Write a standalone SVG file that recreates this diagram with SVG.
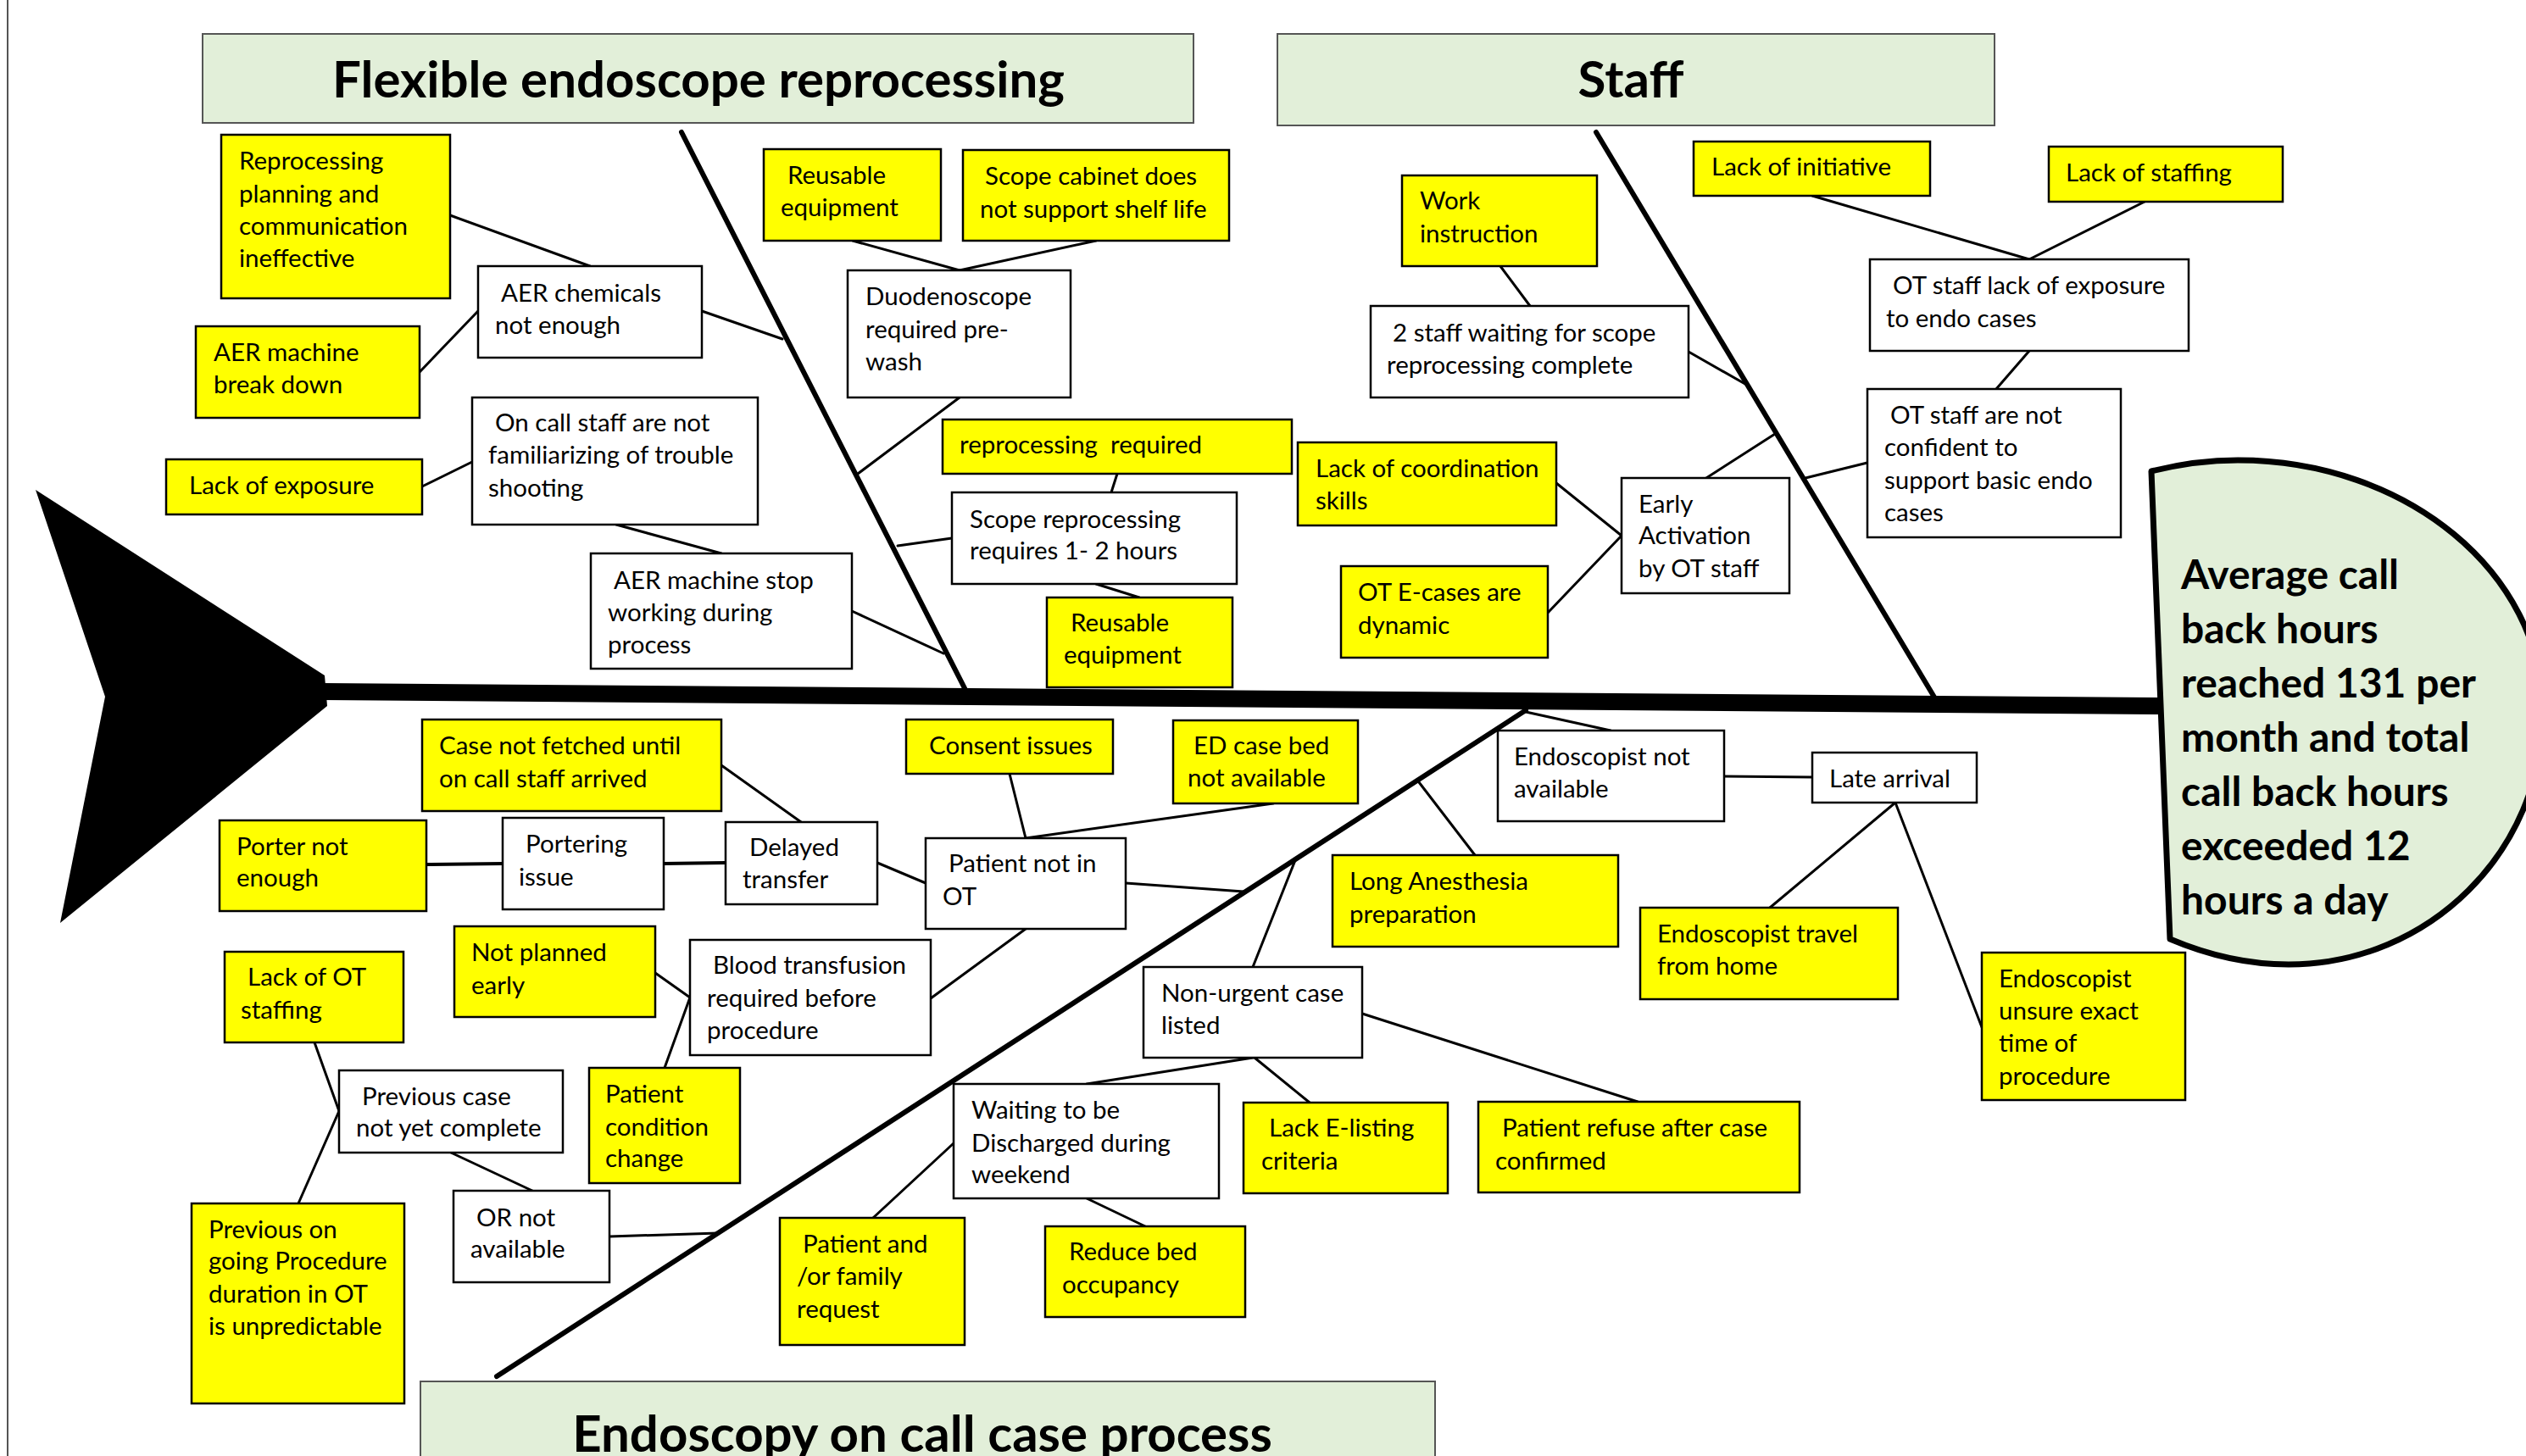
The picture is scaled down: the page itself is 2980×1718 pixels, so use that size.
<svg xmlns="http://www.w3.org/2000/svg" width="2980" height="1718" viewBox="0 0 2980 1718">
<style>
text{font-family:Lato,"Liberation Sans",sans-serif;fill:#000}
.t{font-size:29.5px}
.h{font-size:60px;font-weight:bold;text-anchor:middle}
.hd{font-size:48px;font-weight:bold}
.y{fill:#FFFF00;stroke:#000;stroke-width:2.5}
.w{fill:#FFFFFF;stroke:#000;stroke-width:2.5}
.g{fill:#E2EFD9;stroke:#555;stroke-width:2}
.c line{stroke:#000;stroke-width:3;stroke-linecap:round}
.b{stroke:#000;stroke-width:6;fill:none}
</style>
<rect width="2980" height="1718" fill="#fff"/>
<line x1="9" y1="0" x2="9" y2="1718" stroke="#555" stroke-width="2"/>

<!-- connectors and bones -->
<g id="connectors" class="c">
<polygon points="42,578 383,797 386,833 71,1089 124,822" fill="#000"/>
<line x1="380" y1="816" x2="2548" y2="833" style="stroke-width:20;stroke-linecap:butt"/>
<line class="b" x1="804" y1="156" x2="1140" y2="816" style="stroke-width:6"/>
<line class="b" x1="1883" y1="156" x2="2284" y2="826" style="stroke-width:6"/>
<line class="b" x1="586" y1="1624" x2="1800" y2="838" style="stroke-width:6"/>
<line x1="531" y1="254" x2="696" y2="314"/>
<line x1="495" y1="439" x2="564" y2="367"/>
<line x1="828" y1="367" x2="923" y2="400"/>
<line x1="498" y1="574" x2="557" y2="545"/>
<line x1="727" y1="619" x2="851" y2="653"/>
<line x1="1005" y1="721" x2="1113" y2="771"/>
<line x1="1006" y1="284" x2="1132" y2="319"/>
<line x1="1293" y1="284" x2="1132" y2="319"/>
<line x1="1132" y1="469" x2="1012" y2="559"/>
<line x1="1318" y1="559" x2="1311" y2="581"/>
<line x1="1123" y1="635" x2="1059" y2="644"/>
<line x1="1293" y1="689" x2="1344" y2="705"/>
<line x1="1770" y1="314" x2="1805" y2="361"/>
<line x1="1992" y1="415" x2="2064" y2="456"/>
<line x1="2138" y1="231" x2="2394" y2="306"/>
<line x1="2530" y1="238" x2="2394" y2="306"/>
<line x1="2394" y1="414" x2="2355" y2="459"/>
<line x1="2203" y1="546" x2="2130" y2="564"/>
<line x1="2013" y1="564" x2="2094" y2="512"/>
<line x1="1836" y1="570" x2="1913" y2="632"/>
<line x1="1826" y1="723" x2="1913" y2="632"/>
<line x1="851" y1="903" x2="945" y2="970"/>
<line x1="503" y1="1020" x2="593" y2="1019" style="stroke-width:4"/>
<line x1="783" y1="1019" x2="856" y2="1018" style="stroke-width:4"/>
<line x1="1035" y1="1018" x2="1092" y2="1042"/>
<line x1="1191" y1="913" x2="1210" y2="989"/>
<line x1="1502" y1="948" x2="1210" y2="989"/>
<line x1="1328" y1="1042" x2="1467" y2="1052"/>
<line x1="1210" y1="1096" x2="1098" y2="1178"/>
<line x1="773" y1="1148" x2="814" y2="1177"/>
<line x1="784" y1="1260" x2="814" y2="1177"/>
<line x1="371" y1="1230" x2="400" y2="1311"/>
<line x1="352" y1="1420" x2="400" y2="1311"/>
<line x1="532" y1="1360" x2="628" y2="1405"/>
<line x1="719" y1="1459" x2="847" y2="1455"/>
<line x1="1125" y1="1349" x2="1030" y2="1437"/>
<line x1="1282" y1="1414" x2="1351" y2="1447"/>
<line x1="1282" y1="1279" x2="1478" y2="1248"/>
<line x1="1478" y1="1141" x2="1528" y2="1015"/>
<line x1="1480" y1="1248" x2="1545" y2="1301"/>
<line x1="1607" y1="1196" x2="1932" y2="1300"/>
<line x1="1740" y1="1009" x2="1674" y2="923"/>
<line x1="1800" y1="840" x2="1900" y2="862"/>
<line x1="2034" y1="916" x2="2138" y2="917"/>
<line x1="2236" y1="947" x2="2088" y2="1071"/>
<line x1="2236" y1="947" x2="2338" y2="1212"/>
</g>

<!-- head -->
<g id="head">
<path d="M2538,556 C2570,548 2600,543 2640,543 C2839,543 3000,676 3000,840 C3000,1004 2866,1138 2700,1138 C2650,1138 2600,1125 2560,1108 Z" fill="#E2EFD9" stroke="#000" stroke-width="7" stroke-linejoin="round"/>
<text class="hd" x="2573" y="695">Average call</text>
<text class="hd" x="2573" y="759">back hours</text>
<text class="hd" x="2573" y="823">reached 131 per</text>
<text class="hd" x="2573" y="887">month and total</text>
<text class="hd" x="2573" y="951">call back hours</text>
<text class="hd" x="2573" y="1015">exceeded 12</text>
<text class="hd" x="2573" y="1079">hours a day</text>
</g>

<!-- category headers -->
<g id="cat-flexible"><rect class="g" x="239" y="40" width="1169" height="105"/><text class="h" x="824" y="115">Flexible endoscope reprocessing</text></g>
<g id="cat-staff"><rect class="g" x="1507" y="40" width="846" height="108"/><text class="h" x="1924" y="115">Staff</text></g>
<g id="cat-process"><rect class="g" x="496" y="1630" width="1197" height="100"/><text class="h" x="1088" y="1713">Endoscopy on call case process</text></g>

<!-- Flexible endoscope reprocessing -->
<g id="n1"><rect class="y" x="261" y="159" width="270" height="193"/><text class="t" x="282" y="200">Reprocessing</text><text class="t" x="282" y="238.5">planning and</text><text class="t" x="282" y="277">communication</text><text class="t" x="282" y="315">ineffective</text></g>
<g id="n2"><rect class="y" x="231" y="385" width="264" height="108"/><text class="t" x="252" y="426">AER machine</text><text class="t" x="252" y="464">break down</text></g>
<g id="n3"><rect class="y" x="196" y="542" width="302" height="65"/><text class="t" x="223" y="583">Lack of exposure</text></g>
<g id="n4"><rect class="w" x="564" y="314" width="264" height="108"/><text class="t" x="591" y="356">AER chemicals</text><text class="t" x="584" y="394">not enough</text></g>
<g id="n5"><rect class="w" x="557" y="469" width="337" height="150"/><text class="t" x="584" y="509">On call staff are not</text><text class="t" x="576" y="547">familiarizing of trouble</text><text class="t" x="576" y="586">shooting</text></g>
<g id="n6"><rect class="w" x="697" y="653" width="308" height="136"/><text class="t" x="724" y="695">AER machine stop</text><text class="t" x="717" y="733">working during</text><text class="t" x="717" y="771">process</text></g>
<g id="n7"><rect class="y" x="901" y="176" width="209" height="108"/><text class="t" x="929" y="217">Reusable</text><text class="t" x="921" y="255">equipment</text></g>
<g id="n8"><rect class="y" x="1136" y="177" width="314" height="107"/><text class="t" x="1162" y="218">Scope cabinet does</text><text class="t" x="1156" y="257">not support shelf life</text></g>
<g id="n9"><rect class="w" x="1000" y="319" width="263" height="150"/><text class="t" x="1021" y="360">Duodenoscope</text><text class="t" x="1021" y="399">required pre-</text><text class="t" x="1021" y="437">wash</text></g>
<g id="n10"><rect class="y" x="1112" y="495" width="412" height="64"/><text class="t" x="1132" y="535">reprocessing&#160; required</text></g>
<g id="n11"><rect class="w" x="1123" y="581" width="336" height="108"/><text class="t" x="1144" y="623">Scope reprocessing</text><text class="t" x="1144" y="660">requires 1- 2 hours</text></g>
<g id="n12"><rect class="y" x="1235" y="705" width="219" height="106"/><text class="t" x="1263" y="745">Reusable</text><text class="t" x="1255" y="783">equipment</text></g>

<!-- Staff -->
<g id="n13"><rect class="y" x="1654" y="207" width="230" height="107"/><text class="t" x="1675" y="247">Work</text><text class="t" x="1675" y="286">instruction</text></g>
<g id="n14"><rect class="w" x="1617" y="361" width="375" height="108"/><text class="t" x="1643" y="403">2 staff waiting for scope</text><text class="t" x="1636" y="441">reprocessing complete</text></g>
<g id="n15"><rect class="y" x="1998" y="167" width="279" height="64"/><text class="t" x="2019" y="207">Lack of initiative</text></g>
<g id="n16"><rect class="y" x="2417" y="173" width="276" height="65"/><text class="t" x="2437" y="214">Lack of staffing</text></g>
<g id="n17"><rect class="w" x="2206" y="306" width="376" height="108"/><text class="t" x="2233" y="347">OT staff lack of exposure</text><text class="t" x="2225" y="386">to endo cases</text></g>
<g id="n18"><rect class="w" x="2203" y="459" width="299" height="175"/><text class="t" x="2230" y="500">OT staff are not</text><text class="t" x="2223" y="538">confident to</text><text class="t" x="2223" y="577">support basic endo</text><text class="t" x="2223" y="615">cases</text></g>
<g id="n19"><rect class="y" x="1531" y="522" width="305" height="98"/><text class="t" x="1552" y="563">Lack of coordination</text><text class="t" x="1552" y="601">skills</text></g>
<g id="n20"><rect class="y" x="1582" y="668" width="244" height="108"/><text class="t" x="1602" y="709">OT E-cases are</text><text class="t" x="1602" y="748">dynamic</text></g>
<g id="n21"><rect class="w" x="1913" y="564" width="198" height="136"/><text class="t" x="1933" y="605">Early</text><text class="t" x="1933" y="642">Activation</text><text class="t" x="1933" y="681">by OT staff</text></g>

<!-- Endoscopy on call case process -->
<g id="n22"><rect class="y" x="498" y="849" width="353" height="108"/><text class="t" x="518" y="890">Case not fetched until</text><text class="t" x="518" y="929">on call staff arrived</text></g>
<g id="n23"><rect class="y" x="259" y="968" width="244" height="107"/><text class="t" x="279" y="1009">Porter not</text><text class="t" x="279" y="1046">enough</text></g>
<g id="n24"><rect class="w" x="593" y="965" width="190" height="108"/><text class="t" x="620" y="1006">Portering</text><text class="t" x="612" y="1045">issue</text></g>
<g id="n25"><rect class="w" x="856" y="970" width="179" height="97"/><text class="t" x="884" y="1010">Delayed</text><text class="t" x="876" y="1048">transfer</text></g>
<g id="n26"><rect class="y" x="1069" y="849" width="244" height="64"/><text class="t" x="1096" y="890">Consent issues</text></g>
<g id="n27"><rect class="y" x="1384" y="850" width="218" height="98"/><text class="t" x="1408" y="890">ED case bed</text><text class="t" x="1401" y="928">not available</text></g>
<g id="n28"><rect class="w" x="1092" y="989" width="236" height="107"/><text class="t" x="1119" y="1029">Patient not in</text><text class="t" x="1112" y="1068">OT</text></g>
<g id="n29"><rect class="y" x="536" y="1093" width="237" height="107"/><text class="t" x="556" y="1134">Not planned</text><text class="t" x="556" y="1173">early</text></g>
<g id="n30"><rect class="w" x="814" y="1109" width="284" height="136"/><text class="t" x="841" y="1149">Blood transfusion</text><text class="t" x="834" y="1188">required before</text><text class="t" x="834" y="1226">procedure</text></g>
<g id="n31"><rect class="y" x="265" y="1123" width="211" height="107"/><text class="t" x="292" y="1163">Lack of OT</text><text class="t" x="284" y="1202">staffing</text></g>
<g id="n32"><rect class="w" x="400" y="1263" width="264" height="97"/><text class="t" x="427" y="1304">Previous case</text><text class="t" x="420" y="1341">not yet complete</text></g>
<g id="n33"><rect class="y" x="695" y="1260" width="178" height="136"/><text class="t" x="714" y="1301">Patient</text><text class="t" x="714" y="1340">condition</text><text class="t" x="714" y="1377">change</text></g>
<g id="n34"><rect class="y" x="226" y="1420" width="251" height="236"/><text class="t" x="246" y="1461">Previous on</text><text class="t" x="246" y="1498">going Procedure</text><text class="t" x="246" y="1537">duration in OT</text><text class="t" x="246" y="1575">is unpredictable</text></g>
<g id="n35"><rect class="w" x="535" y="1405" width="184" height="108"/><text class="t" x="562" y="1447">OR not</text><text class="t" x="555" y="1484">available</text></g>
<g id="n36"><rect class="w" x="1125" y="1279" width="313" height="135"/><text class="t" x="1146" y="1320">Waiting to be</text><text class="t" x="1146" y="1359">Discharged during</text><text class="t" x="1146" y="1396">weekend</text></g>
<g id="n37"><rect class="y" x="920" y="1437" width="218" height="150"/><text class="t" x="947" y="1478">Patient and</text><text class="t" x="940" y="1516">/or family</text><text class="t" x="940" y="1555">request</text></g>
<g id="n38"><rect class="y" x="1233" y="1447" width="236" height="107"/><text class="t" x="1261" y="1487">Reduce bed</text><text class="t" x="1253" y="1526">occupancy</text></g>
<g id="n39"><rect class="w" x="1349" y="1141" width="258" height="107"/><text class="t" x="1370" y="1182">Non-urgent case</text><text class="t" x="1370" y="1220">listed</text></g>
<g id="n40"><rect class="y" x="1467" y="1301" width="241" height="107"/><text class="t" x="1497" y="1341">Lack E-listing</text><text class="t" x="1488" y="1380">criteria</text></g>
<g id="n41"><rect class="y" x="1744" y="1300" width="379" height="107"/><text class="t" x="1772" y="1341">Patient refuse after case</text><text class="t" x="1764" y="1380">confirmed</text></g>
<g id="n42"><rect class="y" x="1572" y="1009" width="337" height="108"/><text class="t" x="1592" y="1050">Long Anesthesia</text><text class="t" x="1592" y="1089">preparation</text></g>
<g id="n43"><rect class="w" x="1767" y="862" width="267" height="107"/><text class="t" x="1786" y="903">Endoscopist not</text><text class="t" x="1786" y="941">available</text></g>
<g id="n44"><rect class="w" x="2138" y="888" width="194" height="59"/><text class="t" x="2158" y="929">Late arrival</text></g>
<g id="n45"><rect class="y" x="1935" y="1071" width="304" height="108"/><text class="t" x="1955" y="1112">Endoscopist travel</text><text class="t" x="1955" y="1150">from home</text></g>
<g id="n46"><rect class="y" x="2338" y="1124" width="240" height="174"/><text class="t" x="2358" y="1165">Endoscopist</text><text class="t" x="2358" y="1203">unsure exact</text><text class="t" x="2358" y="1241">time of</text><text class="t" x="2358" y="1280">procedure</text></g>
</svg>
